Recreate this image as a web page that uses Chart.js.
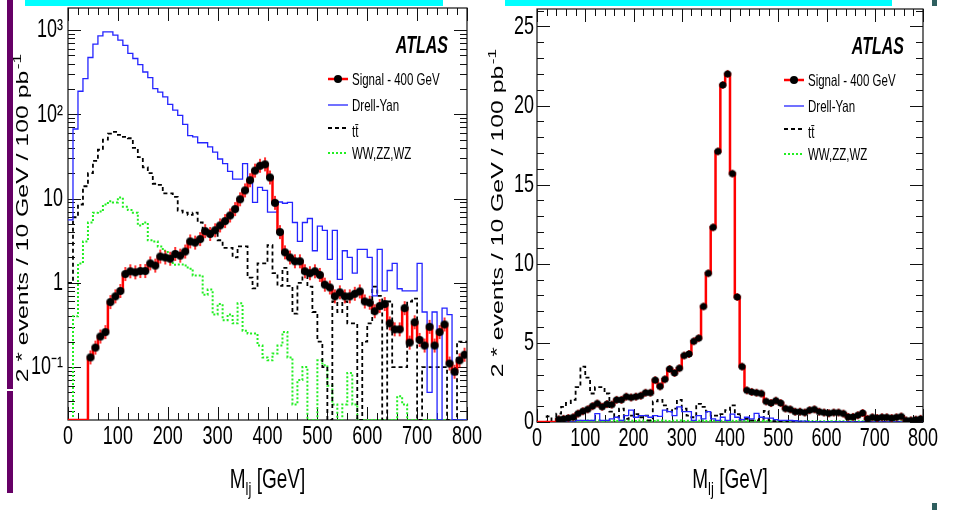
<!DOCTYPE html>
<html>
<head>
<meta charset="utf-8">
<script src="https://cdn.jsdelivr.net/npm/chart.js@4.4.0/dist/chart.umd.min.js"></script>
<style>
  html, body { margin: 0; padding: 0; background: #fff; }
  #page { position: relative; width: 955px; height: 510px; overflow: hidden; background: #fff; }
  .panel { position: absolute; top: 0; height: 510px; }
  #leftPanel { left: 0; width: 500px; z-index: 2; }
  #rightPanel { left: 480px; width: 475px; z-index: 1; }
  .deco { position: absolute; z-index: 5; }
</style>
</head>
<body>
<div id="page">
  <div class="panel" id="leftPanel"><canvas id="logChart" width="500" height="510"></canvas></div>
  <div class="panel" id="rightPanel"><canvas id="linChart" width="475" height="510"></canvas></div>
  <div class="deco" style="left:25px;top:0;width:418px;height:6px;background:#00ffff"></div>
  <div class="deco" style="left:505px;top:0;width:387px;height:6px;background:#00ffff"></div>
  <div class="deco" style="left:7px;top:0;width:6px;height:389px;background:#660066"></div>
  <div class="deco" style="left:7px;top:391px;width:6px;height:102px;background:#660066"></div>
  <div class="deco" style="left:932px;top:0;width:5px;height:6px;background:#2f5f5f"></div>
  <div class="deco" style="left:932px;top:503px;width:5px;height:7px;background:#2f5f5f"></div>
</div>
<script>
// bins of 10 GeV from 0 to 800 GeV
const binWidth = 10;
const massTicks = [0, 100, 200, 300, 400, 500, 600, 700, 800];
const logTicks = [0.1, 1, 10, 100, 1000];
const logTickLabels = ['10⁻¹', '1', '10', '10²', '10³'];
const linTicks = [0, 5, 10, 15, 20, 25];
const seriesNames = ['Signal - 400 GeV', 'Drell-Yan', 'tt\u0304', 'WW,ZZ,WZ'];

// left panel (log scale)
const sigLog = [
  0, 0, 0, 0, 0.13, 0.17, 0.23, 0.26, 0.59, 0.69,
  0.80, 1.27, 1.37, 1.33, 1.38, 1.38, 1.70, 1.60, 2.05, 2.00,
  1.93, 2.20, 2.10, 2.35, 3.10, 3.00, 3.30, 4.10, 3.80, 4.20,
  4.80, 5.40, 6.30, 7.50, 9.80, 12.5, 16.5, 21.5, 24.5, 25.5,
  17.8, 8.9, 4.0, 2.3, 2.0, 1.8, 1.8, 1.37, 1.30, 1.37,
  1.24, 0.95, 0.88, 0.69, 0.77, 0.69, 0.69, 0.74, 0.79, 0.60,
  0.58, 0.46, 0.53, 0.56, 0.33, 0.28, 0.28, 0.50, 0.195, 0.34,
  0.21, 0.18, 0.30, 0.18, 0.26, 0.32, 0.11, 0.088, 0.12, 0.14
];
const dyLog = [
  5.6, 67, 188, 265, 473, 680, 855, 955, 955, 870,
  760, 660, 528, 460, 390, 318, 273, 202, 184, 161,
  131, 112, 97, 76, 56, 54, 46, 46, 41, 35.5,
  29.5, 26, 21, 17, 17, 26, 17, 9, 13.6, 12.5,
  6.9, 6.9, 9.1, 8.8, 9.0, 5.2, 3.1, 5.2, 5.8, 2.4,
  4.7, 4.2, 1.9, 4.2, 1.1, 2.4, 2.0, 1.3, 2.5, 2.5,
  2.0, 0.7, 2.5, 0.8, 1.4, 1.7, 0.85, 0.8, 0.8, 0.8,
  1.7, 0.45, 0.05, 0.45, 0, 0.5, 0.42, 0, 0, 0
];
const ttLog = [
  1.0, 6, 8.5, 14, 20, 28, 38, 50, 59, 62,
  57, 54, 52, 40, 31, 23.5, 20, 15, 14.5, 11.5,
  11.5, 10.5, 7.2, 6.8, 6.4, 6.8, 5.2, 4.2, 4.2, 4.1,
  3.2, 2.6, 2.6, 2.0, 2.7, 2.7, 1.15, 0.86, 1.7, 1.7,
  2.8, 1.3, 0.92, 1.5, 0.92, 0.43, 1.0, 1.3, 0.9, 0.45,
  0.2, 0.1, 0, 0.6, 0.45, 0.6, 0.33, 0.33, 0, 0.2,
  0.33, 0.9, 0.7, 0, 0.6, 0.1, 0.1, 0.1, 0.6, 0.65,
  0, 0.1, 0.1, 0.1, 0.1, 0.1, 0, 0, 0.2, 0.2
];
const wwLog = [
  0, 0.4, 1.7, 3.1, 5.2, 6.8, 7.0, 8.5, 9.3, 9.0,
  10.3, 8.0, 7.3, 6.8, 4.8, 5.2, 3.2, 3.1, 2.7, 2.4,
  2.1, 1.64, 1.65, 1.6, 1.47, 1.22, 1.22, 0.72, 0.83, 0.42,
  0.56, 0.36, 0.42, 0.33, 0.57, 0.27, 0.25, 0.25, 0.18, 0.13,
  0.12, 0.145, 0.18, 0.26, 0.13, 0.036, 0.07, 0.1, 0, 0,
  0.12, 0.105, 0.06, 0.036, 0, 0.036, 0.085, 0.036, 0, 0,
  0, 0, 0, 0, 0, 0, 0.045, 0.036, 0, 0,
  0, 0, 0, 0, 0, 0, 0, 0, 0, 0
];

// right panel (linear scale)
const sigLin = [
  0, 0, 0, 0, 0.17, 0.2, 0.25, 0.3, 0.53, 0.68,
  0.8, 1.0, 1.17, 0.96, 1.13, 1.1, 1.4, 1.4, 1.6, 1.55,
  1.6, 1.66, 1.85, 1.85, 2.65, 2.25, 2.7, 3.35, 3.1, 3.4,
  4.2, 4.3, 5.1, 5.3, 7.3, 9.4, 12.3, 17.1, 21.3, 22.0,
  15.7, 7.9, 3.5, 2.0, 1.9, 1.85, 1.8, 1.3, 1.2, 1.35,
  1.2, 0.85, 0.8, 0.65, 0.65, 0.6, 0.75, 0.8, 0.65, 0.6,
  0.55, 0.6, 0.6, 0.53, 0.32, 0.32, 0.43, 0.57, 0.2, 0.3,
  0.25, 0.3, 0.3, 0.25, 0.3, 0.35, 0.1, 0.1, 0.15, 0.2
];
const dyLin = [
  0, 0, 0, 0, 0, 0, 0, 0, 0.1, 0.1,
  0.1, 0.1, 0.53, 0.1, 0.1, 0.2, 0.3, 0.1, 0.4, 0.75,
  0.3, 0.4, 0.4, 0.3, 0.4, 0.35, 0.75, 0.65, 0.4, 0.95,
  0.65, 0.65, 0.1, 0.4, 0.2, 0.65, 0.2, 0.1, 0.3, 0.1,
  0.5, 0.3, 0.15, 0.3, 0.2, 0.55, 0.3, 0.25, 0.25, 0.15,
  0.1, 0.1, 0.1, 0.08, 0.05, 0.05, 0, 0, 0, 0,
  0, 0, 0, 0, 0, 0, 0, 0, 0, 0,
  0, 0, 0, 0, 0, 0, 0, 0, 0, 0
];
const ttLin = [
  0, 0, 0.35, 0, 0.53, 0.95, 1.2, 1.4, 2.2, 3.5,
  2.8, 1.8, 2.2, 2.2, 1.8, 0.65, 0.3, 0.85, 0.2, 0.4,
  0.5, 0.3, 0.4, 0.1, 1.3, 1.4, 1.05, 0.65, 0.85, 1.4,
  0.85, 0.4, 0.3, 1.15, 0.95, 0.65, 0.4, 0.4, 0.5, 0.75,
  1.05, 0.5, 0.15, 0.2, 0.1, 0.1, 0.2, 0.7, 0.1, 0.05,
  0, 0, 0.05, 0, 0, 0, 0, 0, 0, 0,
  0, 0, 0, 0, 0, 0, 0, 0, 0, 0,
  0, 0, 0, 0, 0, 0, 0, 0, 0, 0
];
const wwLin = [
  0, 0, 0, 0, 0, 0, 0, 0, 0.08, 0.06,
  0.1, 0.08, 0.1, 0.06, 0.08, 0.1, 0.06, 0.08, 0.1, 0.08,
  0.06, 0.1, 0.08, 0.08, 0.06, 0.1, 0.08, 0.06, 0.08, 0.1,
  0.06, 0.08, 0.06, 0.08, 0.1, 0.06, 0.08, 0.06, 0.08, 0.06,
  0.08, 0.06, 0.08, 0.06, 0.05, 0.08, 0.06, 0.05, 0.06, 0.08,
  0.05, 0.06, 0.05, 0.06, 0.05, 0.04, 0.06, 0.05, 0.04, 0.05,
  0.04, 0.05, 0.04, 0.05, 0.04, 0.03, 0.05, 0.04, 0.03, 0.04,
  0.03, 0.04, 0.03, 0.04, 0.03, 0.04, 0.03, 0, 0, 0
];

const LOG_MIN = 0.0235, LOG_MAX = 1830;
const LIN_MIN = 0, LIN_MAX = 26.1;
const FONT = "'Liberation Sans', Arial, sans-serif";
const SY = 1.45; // the original picture is stretched vertically, so its text is tall and narrow

// histogram outline: one point per bin low edge, plus the last high edge
function histPoints(vals, floor) {
  const pts = vals.map((v, i) => ({ x: i * binWidth, y: Math.max(v, floor) }));
  pts.push({ x: vals.length * binWidth, y: Math.max(vals[vals.length - 1], floor) });
  return pts;
}
function markerPoints(vals) {
  return vals.map((v, i) => ({ x: i * binWidth + binWidth / 2, y: v > 0 ? v : null }));
}

// black dot with a red error bar
function makeMarker(half, r) {
  const c = document.createElement('canvas');
  c.width = 10; c.height = half * 2 + 2;
  const g = c.getContext('2d');
  g.strokeStyle = '#ff0000'; g.lineWidth = 1.6;
  g.beginPath(); g.moveTo(5, 1); g.lineTo(5, c.height - 1); g.stroke();
  g.fillStyle = '#000';
  g.beginPath(); g.arc(5, c.height / 2, r, 0, Math.PI * 2); g.fill();
  return c;
}

function minorLinear(from, to, step, skipEvery) {
  const out = [];
  for (let v = from; v <= to + 1e-9; v += step) if (Math.round(v) % skipEvery !== 0) out.push(v);
  return out;
}
function minorLog(min, max) {
  const out = [];
  for (let d = 0.01; d <= 1000; d *= 10)
    for (let m = 2; m <= 9; m++) { const v = m * d; if (v > min && v < max) out.push(v); }
  return out;
}

function tallText(ctx, text, x, y) {
  ctx.save();
  ctx.translate(x, y);
  ctx.scale(1, SY);
  ctx.fillText(text, 0, 0);
  ctx.restore();
}

const histDecor = {
  id: 'histDecor',
  beforeDraw(chart) {
    // axis tick labels get the same tall look as the rest of the text
    const ctx = chart.ctx;
    const orig = CanvasRenderingContext2D.prototype.fillText;
    ctx.fillText = function (t, x, y, w) {
      this.save(); this.translate(x, y); this.scale(1, SY);
      if (w === undefined) orig.call(this, t, 0, 0); else orig.call(this, t, 0, 0, w);
      this.restore();
    };
  },
  beforeDatasetsDraw(chart, args, o) {
    const { ctx, chartArea: a, scales: { x, y } } = chart;
    delete ctx.fillText;
    ctx.save();
    ctx.strokeStyle = '#111';
    ctx.lineWidth = 1.2;
    ctx.strokeRect(a.left, a.top, a.right - a.left, a.bottom - a.top);
    ctx.lineWidth = 1;
    ctx.beginPath();
    const xt = (vals, len) => vals.forEach(v => {
      const p = Math.round(x.getPixelForValue(v)) + 0.5;
      ctx.moveTo(p, a.bottom); ctx.lineTo(p, a.bottom - len);
      ctx.moveTo(p, a.top); ctx.lineTo(p, a.top + len);
    });
    const yt = (vals, len) => vals.forEach(v => {
      const p = Math.round(y.getPixelForValue(v)) + 0.5;
      ctx.moveTo(a.left, p); ctx.lineTo(a.left + len, p);
      ctx.moveTo(a.right, p); ctx.lineTo(a.right - len, p);
    });
    xt(massTicks, 13); xt(o.xMinor, 7);
    yt(o.yMajor, 13); yt(o.yMinor, 7);
    ctx.stroke();
    ctx.restore();
  },
  afterDraw(chart, args, o) {
    const { ctx, chartArea: a } = chart;
    const ds = chart.data.datasets;
    ctx.save();
    ctx.fillStyle = '#000';

    // ATLAS label
    ctx.font = 'bold italic 16px ' + FONT;
    ctx.textAlign = 'right';
    ctx.textBaseline = 'alphabetic';
    tallText(ctx, 'ATLAS', a.right - 19, a.top + 45);

    // legend
    const x0 = a.right - 139, x1 = a.right - 119, tx = a.right - 115;
    const rows = [71, 97, 120, 145];
    ctx.textAlign = 'left';
    ctx.textBaseline = 'middle';
    ctx.font = '11.5px ' + FONT;
    rows.forEach((r, i) => {
      const yy = a.top + r;
      const d = ds[i + 1];
      ctx.save();
      ctx.strokeStyle = d.borderColor;
      ctx.lineWidth = d.borderWidth;
      ctx.setLineDash(d.borderDash || []);
      ctx.beginPath(); ctx.moveTo(x0, yy); ctx.lineTo(x1, yy); ctx.stroke();
      if (i === 0) {
        ctx.fillStyle = '#000';
        ctx.beginPath(); ctx.arc((x0 + x1) / 2, yy, 4, 0, Math.PI * 2); ctx.fill();
      }
      ctx.restore();
      tallText(ctx, seriesNames[i], tx, yy + (i === 2 ? 4 : 1));
    });

    // x axis title: M_lj [GeV]
    ctx.textBaseline = 'alphabetic';
    ctx.font = '19px ' + FONT;
    const wM = ctx.measureText('M').width;
    const wR = ctx.measureText(' [GeV]').width;
    ctx.font = '13px ' + FONT;
    const wS = ctx.measureText('lj').width;
    let sx = (a.left + a.right) / 2 - (wM + wS + wR) / 2;
    const by = 488;
    ctx.font = '19px ' + FONT;
    tallText(ctx, 'M', sx, by); sx += wM;
    ctx.font = '13px ' + FONT;
    tallText(ctx, 'lj', sx, by + 7); sx += wS;
    ctx.font = '19px ' + FONT;
    tallText(ctx, ' [GeV]', sx, by);

    // y axis title, rotated (stretched along its length)
    ctx.translate(o.yTitleX, o.yTitleY);
    ctx.rotate(-Math.PI / 2);
    ctx.scale(1.55, 1);
    const main = '2 * events / 10 GeV / 100 pb';
    ctx.font = '16px ' + FONT;
    const wMain = ctx.measureText(main).width;
    ctx.font = '11px ' + FONT;
    const wSup = ctx.measureText('-1').width;
    const start = -(wMain + wSup) / 2;
    ctx.font = '16px ' + FONT;
    ctx.fillText(main, start, 0);
    ctx.font = '11px ' + FONT;
    ctx.fillText('-1', start + wMain + 1, -7);
    ctx.restore();
  }
};

const tickFont = { family: FONT, size: 18 };

function xAxis(height) {
  return {
    type: 'linear', min: 0, max: 800,
    afterBuildTicks: s => { s.ticks = massTicks.map(v => ({ value: v })); },
    afterFit: s => { s.height = height; s.paddingLeft = 0; s.paddingRight = 0; },
    grid: { display: false, drawTicks: false },
    border: { display: false },
    ticks: { font: tickFont, color: '#000', padding: 6, maxRotation: 0, autoSkip: false,
      callback: v => String(v) }
  };
}

function histDatasets(sig, dy, tt, ww, floor, barHalf, r) {
  return [
    { data: markerPoints(sig), showLine: false, pointStyle: makeMarker(barHalf, r), pointRadius: 4,
      borderColor: '#000', backgroundColor: '#000' },
    { label: seriesNames[0], data: histPoints(sig, floor), borderColor: '#ff0000', borderWidth: 2.5,
      stepped: 'before', pointRadius: 0 },
    { label: seriesNames[1], data: histPoints(dy, floor), borderColor: '#2424ff', borderWidth: 1.3,
      stepped: 'before', pointRadius: 0 },
    { label: seriesNames[2], data: histPoints(tt, floor), borderColor: '#000000', borderWidth: 1.8,
      borderDash: [4, 3], stepped: 'before', pointRadius: 0 },
    { label: seriesNames[3], data: histPoints(ww, floor), borderColor: '#22ee22', borderWidth: 2,
      borderDash: [2, 2], stepped: 'before', pointRadius: 0 }
  ];
}

Chart.defaults.font.family = FONT;

new Chart(document.getElementById('logChart'), {
  type: 'line',
  data: { datasets: histDatasets(sigLog, dyLog, ttLog, wwLog, LOG_MIN, 7, 4) },
  options: {
    responsive: false, animation: false, events: [],
    layout: { padding: { top: 8, right: 33, bottom: 0, left: 0 } },
    plugins: {
      legend: { display: false }, tooltip: { enabled: false },
      histDecor: { xMinor: minorLinear(0, 800, 20, 100), yMajor: logTicks,
        yMinor: minorLog(LOG_MIN, LOG_MAX), yTitleX: 28, yTitleY: 219 }
    },
    scales: {
      x: xAxis(90),
      y: {
        type: 'logarithmic', min: LOG_MIN, max: LOG_MAX,
        afterBuildTicks: s => { s.ticks = logTicks.map(v => ({ value: v })); },
        afterFit: s => { s.width = 68; s.paddingTop = 0; s.paddingBottom = 0; },
        grid: { display: false, drawTicks: false },
        border: { display: false },
        ticks: { font: tickFont, color: '#000', padding: 5, autoSkip: false,
          callback: (v, i) => logTickLabels[i] }
      }
    }
  },
  plugins: [histDecor]
});

new Chart(document.getElementById('linChart'), {
  type: 'line',
  data: { datasets: histDatasets(sigLin, dyLin, ttLin, wwLin, LIN_MIN, 4, 3.6) },
  options: {
    responsive: false, animation: false, events: [],
    layout: { padding: { top: 9, right: 32, bottom: 0, left: 0 } },
    plugins: {
      legend: { display: false }, tooltip: { enabled: false },
      histDecor: { xMinor: minorLinear(0, 800, 20, 100), yMajor: linTicks,
        yMinor: minorLinear(0, 26, 1, 5), yTitleX: 23, yTitleY: 214 }
    },
    scales: {
      x: xAxis(88),
      y: {
        type: 'linear', min: LIN_MIN, max: LIN_MAX,
        afterBuildTicks: s => { s.ticks = linTicks.map(v => ({ value: v })); },
        afterFit: s => { s.width = 57; s.paddingTop = 0; s.paddingBottom = 0; },
        grid: { display: false, drawTicks: false },
        border: { display: false },
        ticks: { font: tickFont, color: '#000', padding: 3, autoSkip: false,
          callback: v => String(v) }
      }
    }
  },
  plugins: [histDecor]
});
</script>
</body>
</html>
